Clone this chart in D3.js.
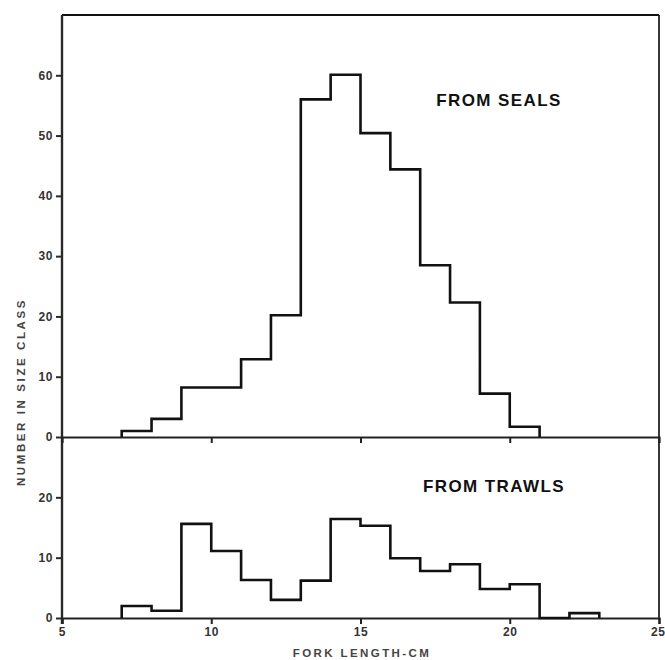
<!DOCTYPE html>
<html><head><meta charset="utf-8">
<script src="https://cdn.jsdelivr.net/npm/d3@7"></script>
<style>
body{margin:0;background:#fff;}
text{font-family:"Liberation Sans",Arial,sans-serif;font-weight:bold;}
</style></head>
<body>
<svg id="chart" width="665" height="660"></svg>
<script>
const binStarts = [7,8,9,10,11,12,13,14,15,16,17,18,19,20,21,22];
const binWidth = 1;
const sealCounts = [1,3,8.2,8.2,12.9,20.2,56,60.1,50.4,44.4,28.5,22.3,7.2,1.7,0,0];
const trawlCounts = [2,1.2,15.6,11.1,6.3,3,6.2,16.4,15.3,9.9,7.8,8.9,4.8,5.6,0,0.8];
const xTicks = [5,10,15,20,25];
const sealTicks = [0,10,20,30,40,50,60];
const trawlTicks = [0,10,20];
const sealLabel = "FROM SEALS";
const trawlLabel = "FROM TRAWLS";
const xTitle = "FORK LENGTH-CM";
const yTitle = "NUMBER IN SIZE CLASS";

const svg = d3.select("#chart");
const left = 62, right = 659;
const x = d3.scaleLinear().domain([5,25]).range([left,right]);
const yTop = d3.scaleLinear().domain([0,70]).range([437,15]);
const yBot = d3.scaleLinear().domain([0,30]).range([618,437]);

const axisColor = "#2a2a2a";
const labelColor = "#333";
const font = "'Liberation Sans',Arial,sans-serif";

function stepPoints(counts){
  let n = counts.length;
  while(n>0 && counts[n-1]===0) n--;
  const pts = [[binStarts[0],0]];
  for(let i=0;i<n;i++) pts.push([binStarts[i],counts[i]]);
  const last = binStarts[n-1]+binWidth;
  pts.push([last,counts[n-1]]);
  pts.push([last,0]);
  return pts;
}

function styleTickText(sel){
  sel.attr("fill",labelColor).attr("font-size",12).attr("font-family",font)
     .attr("font-weight","bold").attr("letter-spacing",0.6);
}

function drawPanel(y, counts, ticks, label, lx, ly){
  const g = svg.append("g");
  const yAxis = d3.axisLeft(y).tickValues(ticks).tickSize(6).tickPadding(3);
  const ga = g.append("g").attr("transform",`translate(${left},0)`).call(yAxis);
  ga.select(".domain").remove();
  ga.selectAll(".tick line").attr("stroke",axisColor).attr("stroke-width",2);
  styleTickText(ga.selectAll(".tick text"));
  const line = d3.line().x(d=>x(d[0])).y(d=>y(d[1])).curve(d3.curveStepAfter);
  g.append("path").datum(stepPoints(counts)).attr("d",line)
    .attr("fill","none").attr("stroke","#111").attr("stroke-width",2.6);
  g.append("text").attr("x",lx).attr("y",ly).attr("text-anchor","middle")
    .attr("font-size",17).attr("letter-spacing",1.4).attr("fill","#111").text(label);
}

// frame
svg.append("line").attr("x1",left).attr("x2",right).attr("y1",yTop(70)).attr("y2",yTop(70)).attr("stroke","#111").attr("stroke-width",2.2);
svg.append("line").attr("x1",right).attr("x2",right).attr("y1",yTop(70)).attr("y2",yBot(0)).attr("stroke","#222").attr("stroke-width",1.8);
svg.append("line").attr("x1",left).attr("x2",left).attr("y1",yTop(70)).attr("y2",yBot(0)+6).attr("stroke",axisColor).attr("stroke-width",2.4);

// upper baseline with ticks
const upperX = d3.axisBottom(x).tickValues([10,15,20]).tickSize(6).tickFormat("");
const gu = svg.append("g").attr("transform",`translate(0,${yTop(0)})`).call(upperX);
gu.select(".domain").attr("stroke","#222").attr("stroke-width",2.2);
gu.selectAll(".tick line").attr("stroke","#222").attr("stroke-width",2);

// bottom axis
const bottomX = d3.axisBottom(x).tickValues(xTicks).tickSize(6).tickPadding(3);
const gb = svg.append("g").attr("transform",`translate(0,${yBot(0)})`).call(bottomX);
gb.select(".domain").attr("stroke","#222").attr("stroke-width",2.2);
gb.selectAll(".tick line").attr("stroke","#222").attr("stroke-width",2);
styleTickText(gb.selectAll(".tick text"));
gb.selectAll(".tick text").filter(d=>d===25).attr("text-anchor","end").attr("dx",6);

drawPanel(yTop, sealCounts, sealTicks, sealLabel, 499, 106);
drawPanel(yBot, trawlCounts, trawlTicks, trawlLabel, 494, 492);

svg.append("text").attr("x",362).attr("y",657).attr("text-anchor","middle")
  .attr("font-size",11.5).attr("fill","#444").attr("letter-spacing",2.4).text(xTitle);
svg.append("text").attr("transform","translate(25,392) rotate(-90)").attr("text-anchor","middle")
  .attr("font-size",11.5).attr("fill","#444").attr("letter-spacing",2.6).text(yTitle);
</script>
</body></html>
